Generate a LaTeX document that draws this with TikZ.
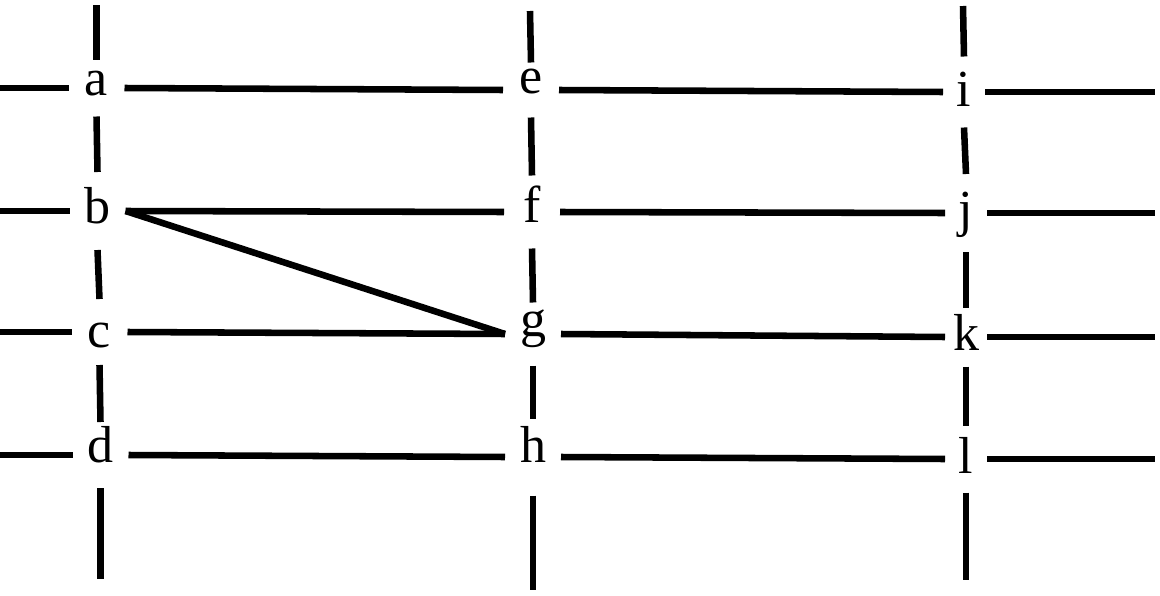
\documentclass[tikz,border=0pt]{standalone}
\usepackage{fontspec}
\setmainfont{Liberation Serif}
\begin{document}
\begin{tikzpicture}[x=0.75pt,y=-0.75pt,
  ln/.style={line width=4.9pt,line cap=butt},
  lt/.style={inner sep=0pt,outer sep=0pt,minimum width=42pt,text depth=0pt,
    font=\fontsize{39}{40}\selectfont},
  narrow/.style={minimum width=31.5pt}]
\useasboundingbox (0,0) rectangle (1160,596);
% letter nodes (px coordinates)
\node[lt,minimum height=42.75pt,text height=10.5pt] (a) at (96.5,88) {a};
\node[lt,minimum height=58.5pt,text height=18pt] (b) at (97.5,211) {b};
\node[lt,minimum height=49.5pt,text height=22.5pt] (c) at (99.5,332) {c};
\node[lt,minimum height=49.5pt,text height=10.5pt] (d) at (100.5,455) {d};
\node[lt,minimum height=41.25pt,text height=4.5pt] (e) at (531,90) {e};
\node[lt,minimum height=54.75pt,text height=15pt] (f) at (532,212) {f};
\node[lt,minimum height=47.25pt,text height=3pt] (g) at (533,334) {g};
\node[lt,minimum height=57.75pt,text height=7.5pt] (h) at (533,457) {h};
\node[lt,narrow,minimum height=53.25pt,text height=21pt] (i) at (964,92) {i};
\node[lt,narrow,minimum height=58.5pt,text height=19.5pt] (j) at (966,213) {j};
\node[lt,narrow,minimum height=44.25pt,text height=19.5pt] (k) at (966,337) {k};
\node[lt,narrow,minimum height=50.25pt,text height=21pt] (l) at (966,459) {l};
% free ends
\coordinate (t1) at (96.5,5);   \coordinate (u1) at (100.5,579);
\coordinate (t2) at (530,11);   \coordinate (u2) at (533,590);
\coordinate (t3) at (963,6);    \coordinate (u3) at (966,580);
\coordinate (L1) at (0,88);  \coordinate (L2) at (0,211);
\coordinate (L3) at (0,332); \coordinate (L4) at (0,455);
\coordinate (R1) at (1155,92);  \coordinate (R2) at (1155,213);
\coordinate (R3) at (1155,337); \coordinate (R4) at (1155,459);
% vertical lines
\draw[ln] (t1) -- (a.north);
\draw[ln] (a.south) -- (b.north);
\draw[ln] (b.south) -- (c.north);
\draw[ln] (c.south) -- (d.north);
\draw[ln] (d.south) -- (u1);
\draw[ln] (t2) -- (e.north);
\draw[ln] (e.south) -- (f.north);
\draw[ln] (f.south) -- (g.north);
\draw[ln] (g.south) -- (h.north);
\draw[ln] (h.south) -- (u2);
\draw[ln] (t3) -- (i.north);
\draw[ln] (i.south) -- (j.north);
\draw[ln] (j.south) -- (k.north);
\draw[ln] (k.south) -- (l.north);
\draw[ln] (l.south) -- (u3);
% horizontal lines
\draw[ln] (L1) -- (a.west);
\draw[ln] (a.east) -- (e.west);
\draw[ln] (e.east) -- (i.west);
\draw[ln] (i.east) -- (R1);
\draw[ln] (L2) -- (b.west);
\draw[ln] (b.east) -- (f.west);
\draw[ln] (f.east) -- (j.west);
\draw[ln] (j.east) -- (R2);
\draw[ln] (L3) -- (c.west);
\draw[ln] (c.east) -- (g.west);
\draw[ln] (g.east) -- (k.west);
\draw[ln] (k.east) -- (R3);
\draw[ln] (L4) -- (d.west);
\draw[ln] (d.east) -- (h.west);
\draw[ln] (h.east) -- (l.west);
\draw[ln] (l.east) -- (R4);
% diagonal
\draw[ln] (b.east) -- (g.west);
\end{tikzpicture}
\end{document}
